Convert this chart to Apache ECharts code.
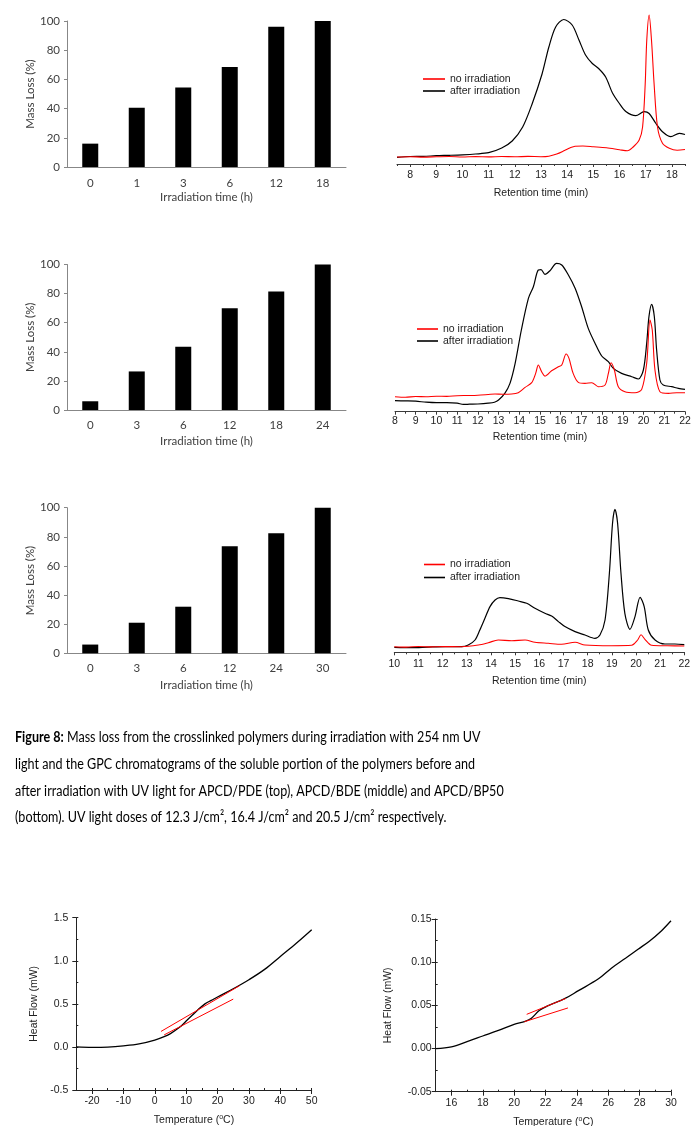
<!DOCTYPE html>
<html><head><meta charset="utf-8">
<script src="https://cdn.jsdelivr.net/npm/echarts@6/dist/echarts.min.js"></script>
<style>html,body{margin:0;padding:0;background:#fff}#c{width:691px;height:1126px}</style>
</head><body><div id="c"></div><script>
// ---------------- DATA ----------------
const barCats1 = ['0', '1', '3', '6', '12', '18'];
const barVals1 = [16, 40.5, 54.5, 68.5, 96, 100];
const barCats2 = ['0', '3', '6', '12', '18', '24'];
const barVals2 = [6, 26.5, 43.5, 70, 81.5, 100];
const barCats3 = ['0', '3', '6', '12', '24', '30'];
const barVals3 = [6, 21, 32, 73.5, 82.5, 100];

const gpcTicks1 = [8, 9, 10, 11, 12, 13, 14, 15, 16, 17, 18];
const gpcTicks2 = [8, 9, 10, 11, 12, 13, 14, 15, 16, 17, 18, 19, 20, 21, 22];
const gpcTicks3 = [10, 11, 12, 13, 14, 15, 16, 17, 18, 19, 20, 21, 22];

const gpc1Red = [[7.5,7.0],[8,7.3],[8.5,6.9],[9,7.2],[9.5,7.5],[10,7.0],[10.5,7.4],[11,7.1],[11.5,7.5],[12,7.2],[12.5,7.6],[13,7.3],[13.3,7.8],[13.6,10],[13.9,13.5],[14.1,16],[14.3,17.8],[14.6,18],[15,17.3],[15.5,16.3],[16,14.3],[16.3,13.2],[16.5,16.5],[16.75,24],[16.88,37],[16.98,80],[17.04,124],[17.13,149],[17.22,124],[17.32,80],[17.45,37],[17.64,20.7],[17.9,15.7],[18.2,13.8],[18.5,14.5]];
const gpc1Black = [[7.5,6.7],[8,7.5],[8.5,7.6],[9,8.3],[9.5,8.7],[10,9.2],[10.5,10],[11,11.3],[11.5,16],[11.9,23],[12.3,37],[12.66,60],[13.04,90],[13.3,117],[13.56,137],[13.87,144.5],[14.19,139],[14.45,124],[14.7,109],[14.96,100.5],[15.2,95.5],[15.47,87],[15.73,71],[15.98,61],[16.24,52.5],[16.62,48.3],[16.94,52.3],[17.13,50.5],[17.39,40.5],[17.64,32.3],[17.96,27.3],[18.28,30.7],[18.5,29.5]];

const gpc2Red = [[8,15],[8.5,14.5],[9,15.2],[9.5,15],[10,15.5],[10.5,15.3],[11,16],[11.5,16.2],[12,16.5],[12.5,17.2],[12.83,17.7],[13.2,17.5],[13.63,17.7],[13.95,19],[14.28,24.3],[14.6,29],[14.79,38.3],[14.92,46.7],[15.08,40],[15.24,35.7],[15.56,41],[15.89,45],[16.05,46.7],[16.26,57.7],[16.4,53.3],[16.6,38.3],[16.85,29.3],[17.17,28.3],[17.5,29],[17.82,25],[18.14,26.7],[18.3,38.3],[18.43,49],[18.59,41.7],[18.78,25],[19.1,20],[19.59,19],[19.91,22.3],[20.15,48.3],[20.31,91.7],[20.42,81.7],[20.55,41.7],[20.79,20],[21.2,18.3],[21.6,19],[22,19]];
const gpc2Black = [[8,11],[8.5,10.8],[9,10.5],[9.5,9.5],[10,9],[10.5,9],[11,8.5],[11.3,7.3],[11.6,7.5],[12,7.7],[12.5,8.5],[12.8,9.5],[13,11.7],[13.3,18.3],[13.55,28.3],[13.8,48.3],[14.1,81.7],[14.44,113.3],[14.68,125],[14.92,141.7],[15.05,142],[15.24,137.3],[15.48,141],[15.8,148.3],[16.05,146.7],[16.37,136.7],[16.7,123.3],[17.01,105],[17.33,83.3],[17.66,68.3],[17.98,55.7],[18.3,50],[18.54,43.3],[18.94,38.3],[19.43,35],[19.75,32.7],[19.99,41.7],[20.15,68.3],[20.26,95],[20.39,107.3],[20.52,95],[20.63,61.7],[20.79,31.7],[20.95,26.7],[21.36,25],[21.68,23.3],[22,22.3]];

const gpc3Red = [[10,5.6],[10.5,5.2],[11,5.8],[11.5,5.4],[12,5.7],[12.79,5.6],[13.48,7.3],[13.89,9.6],[14.3,12.3],[14.86,11.6],[15.41,12.3],[15.82,10],[16.37,9],[16.92,8],[17.48,10],[17.89,7.3],[18.99,6.6],[19.82,7],[20.07,12.3],[20.21,17.6],[20.37,13],[20.65,7],[21.3,6.5],[22,6.3]];
const gpc3Black = [[10,5],[10.72,4.7],[11.4,5.2],[12.1,5.6],[12.79,5.6],[13.06,7.3],[13.34,12.3],[13.54,22.3],[13.75,34],[13.96,45.7],[14.17,52.3],[14.37,54.7],[14.72,53.7],[15.13,51.3],[15.48,49],[15.82,44],[16.23,39],[16.51,36.3],[16.79,30.7],[17.06,25.7],[17.48,20.7],[17.89,17.3],[18.3,14],[18.51,17.3],[18.72,32.3],[18.9,79],[19.03,129],[19.13,143],[19.24,129],[19.38,79],[19.54,39],[19.75,23],[19.96,35.7],[20.17,55],[20.34,45.7],[20.51,22.3],[20.79,12.3],[21.2,8.3],[21.61,8.3],[22,7.7]];

const dsc1Ticks = [-20, -10, 0, 10, 20, 30, 40, 50];
const dsc1Curve = [[-25,0],[-20,-0.005],[-15,-0.002],[-10,0.012],[-5,0.035],[0,0.08],[3,0.12],[5,0.155],[8,0.23],[10,0.3],[12,0.37],[14,0.44],[16,0.5],[18,0.54],[20,0.58],[25,0.675],[30,0.78],[35,0.9],[40,1.05],[45,1.2],[50,1.36]];
const dsc1TangentUpper = [[2,0.18],[27,0.71]];
const dsc1TangentLower = [[3,0.14],[25,0.555]];

const dsc2Ticks = [16, 18, 20, 22, 24, 26, 28, 30];
const dsc2Curve = [[15,0],[16,0.002],[17,0.008],[18,0.0145],[19,0.021],[20,0.028],[20.7,0.0315],[21.1,0.035],[21.6,0.044],[22.1,0.049],[23.25,0.058],[24.1,0.067],[25.4,0.081],[26.2,0.093],[27.1,0.1045],[27.9,0.115],[28.6,0.124],[29.4,0.1365],[30,0.148]];
const dsc2TangentUpper = [[20.8,0.0396],[23.3,0.058]];
const dsc2TangentLower = [[20.65,0.031],[23.43,0.047]];

const legendNames = ['no irradiation', 'after irradiation'];
const captionLines = [
  '{b|Figure 8:} Mass loss from the crosslinked polymers during irradiation with 254 nm UV',
  'light and the GPC chromatograms of the soluble portion of the polymers before and',
  'after irradiation with UV light for APCD/PDE (top), APCD/BDE (middle) and APCD/BP50',
  '(bottom). UV light doses of 12.3 J/cm\u00B2, 16.4 J/cm\u00B2 and 20.5 J/cm\u00B2 respectively.'
];

// ---------------- CHART ----------------
const SANS = "'Liberation Sans', Arial, sans-serif";
const CAL = "Lato, 'Noto Sans', sans-serif";
const chart = echarts.init(document.getElementById('c'), null, {renderer: 'canvas', width: 691, height: 1126});

const grids = [], xAxes = [], yAxes = [], series = [], legends = [];

function addGrid(left, top, width, height) {
  grids.push({left, top, width, height, outerBoundsMode: 'none', containLabel: false});
  return grids.length - 1;
}

function barPanel(box, cats, vals, labelMargin, nameGap) {
  const gi = addGrid(...box);
  const gray = '#878787';
  xAxes.push({gridIndex: gi, type: 'category', data: cats, position: 'bottom',
    axisTick: {show: false}, axisLine: {show: true, lineStyle: {color: gray, width: 1}},
    axisLabel: {color: '#404040', fontFamily: CAL, fontSize: 11.5, margin: labelMargin},
    name: 'Irradiation time (h)', nameLocation: 'middle', nameGap: nameGap,
    nameTextStyle: {color: '#404040', fontFamily: CAL, fontSize: 11.5}});
  yAxes.push({gridIndex: gi, type: 'value', min: 0, max: 100, interval: 20, position: 'left',
    axisLine: {show: true, lineStyle: {color: gray, width: 1}},
    axisTick: {show: true, length: 3, lineStyle: {color: gray}},
    splitLine: {show: false},
    axisLabel: {color: '#404040', fontFamily: CAL, fontSize: 11.5, margin: 7},
    name: 'Mass Loss (%)', nameLocation: 'middle', nameGap: 31,
    nameTextStyle: {color: '#404040', fontFamily: CAL, fontSize: 11.5}});
  series.push({type: 'bar', xAxisIndex: xAxes.length - 1, yAxisIndex: yAxes.length - 1,
    data: vals, barWidth: 16, itemStyle: {color: '#000'}, silent: true});
}

function gpcPanel(box, xmin, xmax, majors, red, black, labelMargin, nameGap, leg) {
  const gi = addGrid(...box);
  const ac = '#3a3a3a';
  xAxes.push({gridIndex: gi, type: 'value', min: xmin, max: xmax, position: 'bottom',
    axisLine: {show: true, onZero: false, lineStyle: {color: ac, width: 1}},
    axisTick: {show: true, length: 3, customValues: majors, lineStyle: {color: ac}},
    axisLabel: {customValues: majors, margin: labelMargin, fontFamily: SANS, fontSize: 10.5, color: '#222'},
    splitLine: {show: false},
    name: 'Retention time (min)', nameLocation: 'middle', nameGap: nameGap,
    nameTextStyle: {fontFamily: SANS, fontSize: 10.5, color: '#222'}});
  const xi = xAxes.length - 1;
  xAxes.push({gridIndex: gi, type: 'value', min: xmin, max: xmax, interval: 0.5, position: 'bottom',
    axisLine: {show: false, onZero: false}, axisLabel: {show: false}, splitLine: {show: false},
    axisTick: {show: true, length: 2, lineStyle: {color: ac}}});
  yAxes.push({gridIndex: gi, type: 'value', min: 0, max: 150, show: false});
  const yi = yAxes.length - 1;
  const common = {type: 'line', xAxisIndex: xi, yAxisIndex: yi, showSymbol: false, symbol: 'none',
    smooth: 0.3, silent: true};
  series.push(Object.assign({}, common, {name: legendNames[1], data: black,
    lineStyle: {color: '#000', width: 1.2}, itemStyle: {color: '#000'}}));
  series.push(Object.assign({}, common, {name: legendNames[0], data: red,
    lineStyle: {color: '#ff0000', width: 1.1}, itemStyle: {color: '#ff0000'}}));
  legends.push({data: legendNames, orient: 'vertical', left: leg[0], top: leg[1], icon: 'rect',
    itemWidth: leg[2], itemHeight: 1.6, itemGap: 0, padding: 0, selectedMode: false,
    textStyle: {fontFamily: SANS, fontSize: 10.5, color: '#222', lineHeight: leg[3], padding: [0, 0, 0, 0]}});
}

function dscPanel(box, xmin, xmax, xMajors, xMinor, ymin, ymax, yInt, yDec, curve, tUp, tLo, nameGapY, yLabelMargin) {
  const gi = addGrid(...box);
  const ac = '#222';
  xAxes.push({gridIndex: gi, type: 'value', min: xmin, max: xmax, position: 'bottom',
    axisLine: {show: true, onZero: false, lineStyle: {color: ac, width: 1}},
    axisTick: {show: true, length: 4, customValues: xMajors, lineStyle: {color: ac}},
    axisLabel: {customValues: xMajors, margin: 6, fontFamily: SANS, fontSize: 10.5, color: '#222'},
    splitLine: {show: false},
    name: '{a|Temperature (}{s|o}{a|C)}', nameLocation: 'middle', nameGap: 24,
    nameTextStyle: {fontFamily: SANS, fontSize: 10.5, color: '#222',
      rich: {a: {fontFamily: SANS, fontSize: 10.5, color: '#222', lineHeight: 12},
             s: {fontFamily: SANS, fontSize: 7, color: '#222', verticalAlign: 'top', lineHeight: 12, padding: [0, 0, 5, 0]}}}});
  const xi = xAxes.length - 1;
  xAxes.push({gridIndex: gi, type: 'value', min: xmin, max: xmax, interval: xMinor, position: 'bottom',
    axisLine: {show: false, onZero: false}, axisLabel: {show: false}, splitLine: {show: false},
    axisTick: {show: true, inside: true, length: 2, lineStyle: {color: ac}}});
  yAxes.push({gridIndex: gi, type: 'value', min: ymin, max: ymax, interval: yInt, position: 'left',
    axisLine: {show: true, onZero: false, lineStyle: {color: ac, width: 1}},
    axisTick: {show: true, length: 4, lineStyle: {color: ac}},
    axisLabel: {margin: yLabelMargin, fontFamily: SANS, fontSize: 10.5, color: '#222',
      formatter: v => Number(v).toFixed(yDec)},
    splitLine: {show: false},
    name: 'Heat Flow (mW)', nameLocation: 'middle', nameGap: nameGapY,
    nameTextStyle: {fontFamily: SANS, fontSize: 10.5, color: '#222'}});
  const yi = yAxes.length - 1;
  yAxes.push({gridIndex: gi, type: 'value', min: ymin, max: ymax, interval: yInt / 2, position: 'left',
    axisLine: {show: false, onZero: false}, axisLabel: {show: false}, splitLine: {show: false},
    axisTick: {show: true, inside: true, length: 2, lineStyle: {color: ac}}});
  series.push({type: 'line', xAxisIndex: xi, yAxisIndex: yi, data: curve, showSymbol: false, symbol: 'none',
    smooth: 0.35, silent: true, lineStyle: {color: '#000', width: 1.3}});
  [tUp, tLo].forEach(t => series.push({type: 'line', xAxisIndex: xi, yAxisIndex: yi, data: t,
    showSymbol: false, symbol: 'none', silent: true, lineStyle: {color: '#ff0000', width: 1}}));
}

barPanel([67, 21, 279, 146], barCats1, barVals1, 10, 24);
gpcPanel([397, 14, 288, 150], 7.5, 18.5, gpcTicks1, gpc1Red, gpc1Black, 5.5, 23.5, [423, 73, 22, 12]);
barPanel([67, 264.5, 279, 145.5], barCats2, barVals2, 9, 25);
gpcPanel([395, 261.7, 290, 150], 8, 22, gpcTicks2, gpc2Red, gpc2Black, 3.5, 20, [417, 323, 21, 12]);
barPanel([67, 507.7, 279, 145.6], barCats3, barVals3, 9, 26);
gpcPanel([394.3, 502.3, 290, 150], 10, 22, gpcTicks3, gpc3Red, gpc3Black, 6, 23, [424, 558, 21, 13]);
dscPanel([76.3, 917.7, 235.4, 172.3], -25, 50, dsc1Ticks, 5, -0.5, 1.5, 0.5, 1, dsc1Curve, dsc1TangentUpper, dsc1TangentLower, 37, 8);
dscPanel([435.7, 919, 235.3, 172.7], 15, 30, dsc2Ticks, 1, -0.05, 0.15, 0.05, 2, dsc2Curve, dsc2TangentUpper, dsc2TangentLower, 42, 4);

const captionY = [737, 764, 790.5, 817];
const graphic = captionLines.map((ln, i) => ({
  type: 'text', x: 15, y: captionY[i], scaleX: 0.81, silent: true,
  style: {text: ln, fontFamily: CAL, fontSize: 15.5, fill: '#000', verticalAlign: 'middle',
    rich: {b: {fontFamily: CAL, fontSize: 15.5, fontWeight: 'bold', fill: '#000'}}}
}));

chart.setOption({
  backgroundColor: '#fff',
  animation: false,
  grid: grids, xAxis: xAxes, yAxis: yAxes, series: series, legend: legends,
  graphic: graphic
});
</script></body></html>
